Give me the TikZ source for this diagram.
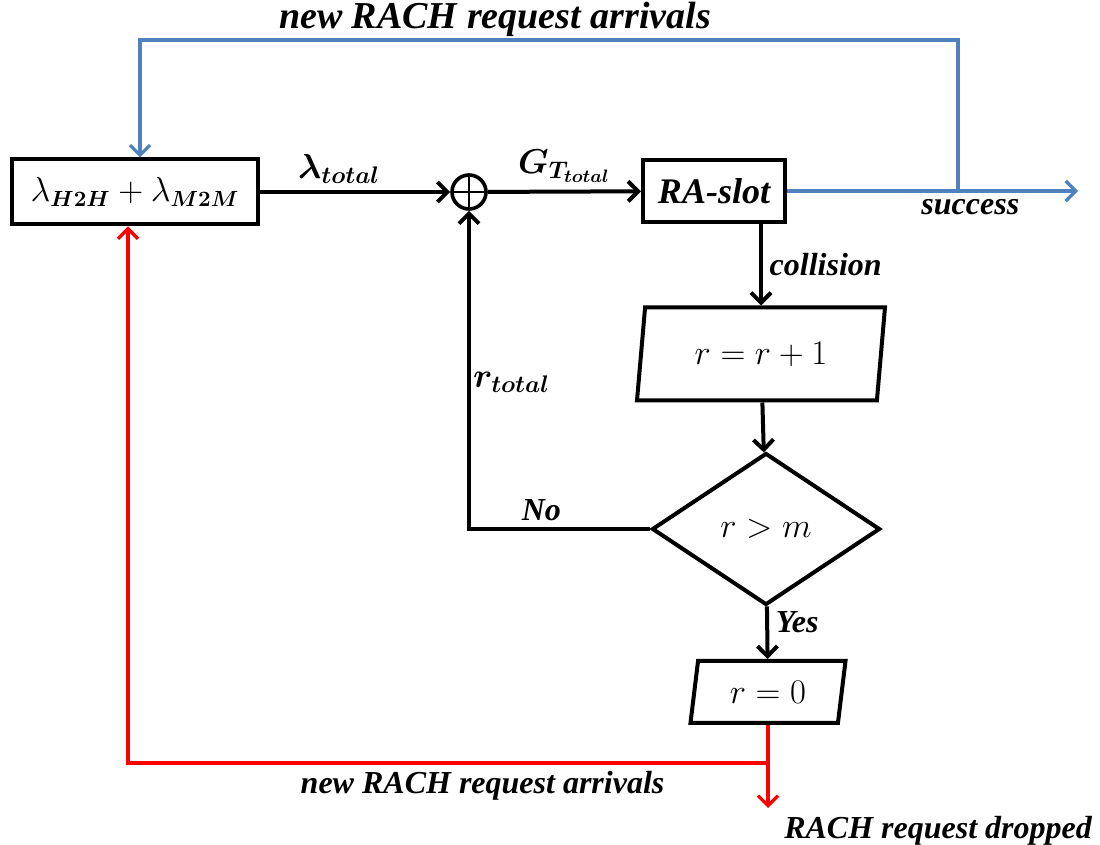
\documentclass[tikz,border=0pt]{standalone}
\usepackage{amsmath,amssymb}
\usepackage{fontspec}
\setmainfont{Liberation Serif}
\usetikzlibrary{arrows.meta,positioning,shapes.geometric}
\definecolor{azulc}{RGB}{79,129,189}
\definecolor{rojo}{RGB}{255,0,0}
\tikzset{
  caja/.style={draw, line width=2pt, align=center, inner sep=2pt},
  para/.style={draw, line width=2pt, trapezium, trapezium left angle=76, trapezium right angle=104, trapezium stretches body, inner sep=2pt},
  rombo/.style={draw, line width=2pt, diamond, aspect=1.5, inner sep=0pt, minimum width=114pt, minimum height=76pt},
  suma/.style={draw, line width=1.8pt, circle, minimum size=17pt, inner sep=0pt,
    path picture={\draw[line width=1pt] (path picture bounding box.north) -- (path picture bounding box.south)
      (path picture bounding box.west) -- (path picture bounding box.east);}},
  fl/.style={-{Straight Barb[length=5pt,width=10pt]}, line width=2pt},
  azl/.style={line width=1.6pt, azulc},
  rj/.style={line width=1.6pt, rojo},
  et/.style={font=\fontsize{16}{18}\selectfont\bfseries\itshape, text=black},
  mt/.style={font=\fontsize{17}{20}\selectfont\boldmath, text=black},
}
\begin{document}
\begin{tikzpicture}[x=0.5pt,y=-0.5pt]
  \useasboundingbox (0,0) rectangle (1100,845);
  \node[caja, minimum width=123pt, minimum height=32.5pt, font=\fontsize{16}{20}\selectfont] (src) at (135,192)
    {$\lambda_{\boldsymbol{H2H}}+\lambda_{\boldsymbol{M2M}}$};
  \node[suma] (sum) at (469,192) {};
  \node[caja, minimum width=71pt, minimum height=31pt, font=\fontsize{18}{22}\selectfont\bfseries\itshape] (slot) at (714,191) {RA-slot};
  \node[para, minimum width=124pt, minimum height=46.5pt, font=\fontsize{18}{22}\selectfont] (inc) at (761,354) {$r=r+1$};
  \node[rombo, font=\fontsize{18}{22}\selectfont] (dec) at (766,529) {$r>m$};
  \node[para, minimum width=77.5pt, minimum height=31pt, font=\fontsize{18}{22}\selectfont] (rst) at (768,692) {$r=0$};
  \coordinate (jb) at (958,191);
  \coordinate (out) at (1078,191);
  \coordinate (topr) at (958,40);
  \coordinate (jr) at (768,763);
  \coordinate (drop) at (768,808);
  \draw[fl] (src) -- node[mt, above, xshift=-8pt]{$\lambda_{total}$} (sum);
  \draw[fl] (sum) -- node[mt, above, font=\fontsize{18}{22}\selectfont\boldmath]{$G_{T_{total}}$} (slot);
  \draw[fl] (slot.south -| inc.north) -- node[et, right]{collision} (inc.north);
  \draw[fl] (inc) -- (dec);
  \draw[fl] (dec.west) -| node[et, pos=0.3, above]{No} node[mt, pos=0.73, right, inner sep=1pt]{$r_{total}$} (sum.south);
  \draw[fl] (dec) -- node[et, pos=0.3, right]{Yes} (rst);
  \draw[azl, -{Straight Barb[length=5pt,width=10pt]}] (slot) -- node[et, pos=0.63, below]{success} (out);
  \draw[azl, -{Straight Barb[length=5pt,width=10pt]}] (jb) -- (topr)
    -| node[et, pos=0.283, above, inner sep=1pt, font=\fontsize{19}{22}\selectfont\bfseries\itshape]{new RACH request arrivals} ([xshift=2.5pt]src.north);
  \draw[rj, -{Straight Barb[length=5pt,width=10pt]}] (rst) -- (drop)
    node[et, below right, xshift=4pt]{RACH request dropped};
  \draw[rj, -{Straight Barb[length=5pt,width=10pt]}] (jr)
    -| node[et, pos=0.223, below]{new RACH request arrivals} ([xshift=-3.5pt]src.south);
\end{tikzpicture}
\end{document}
